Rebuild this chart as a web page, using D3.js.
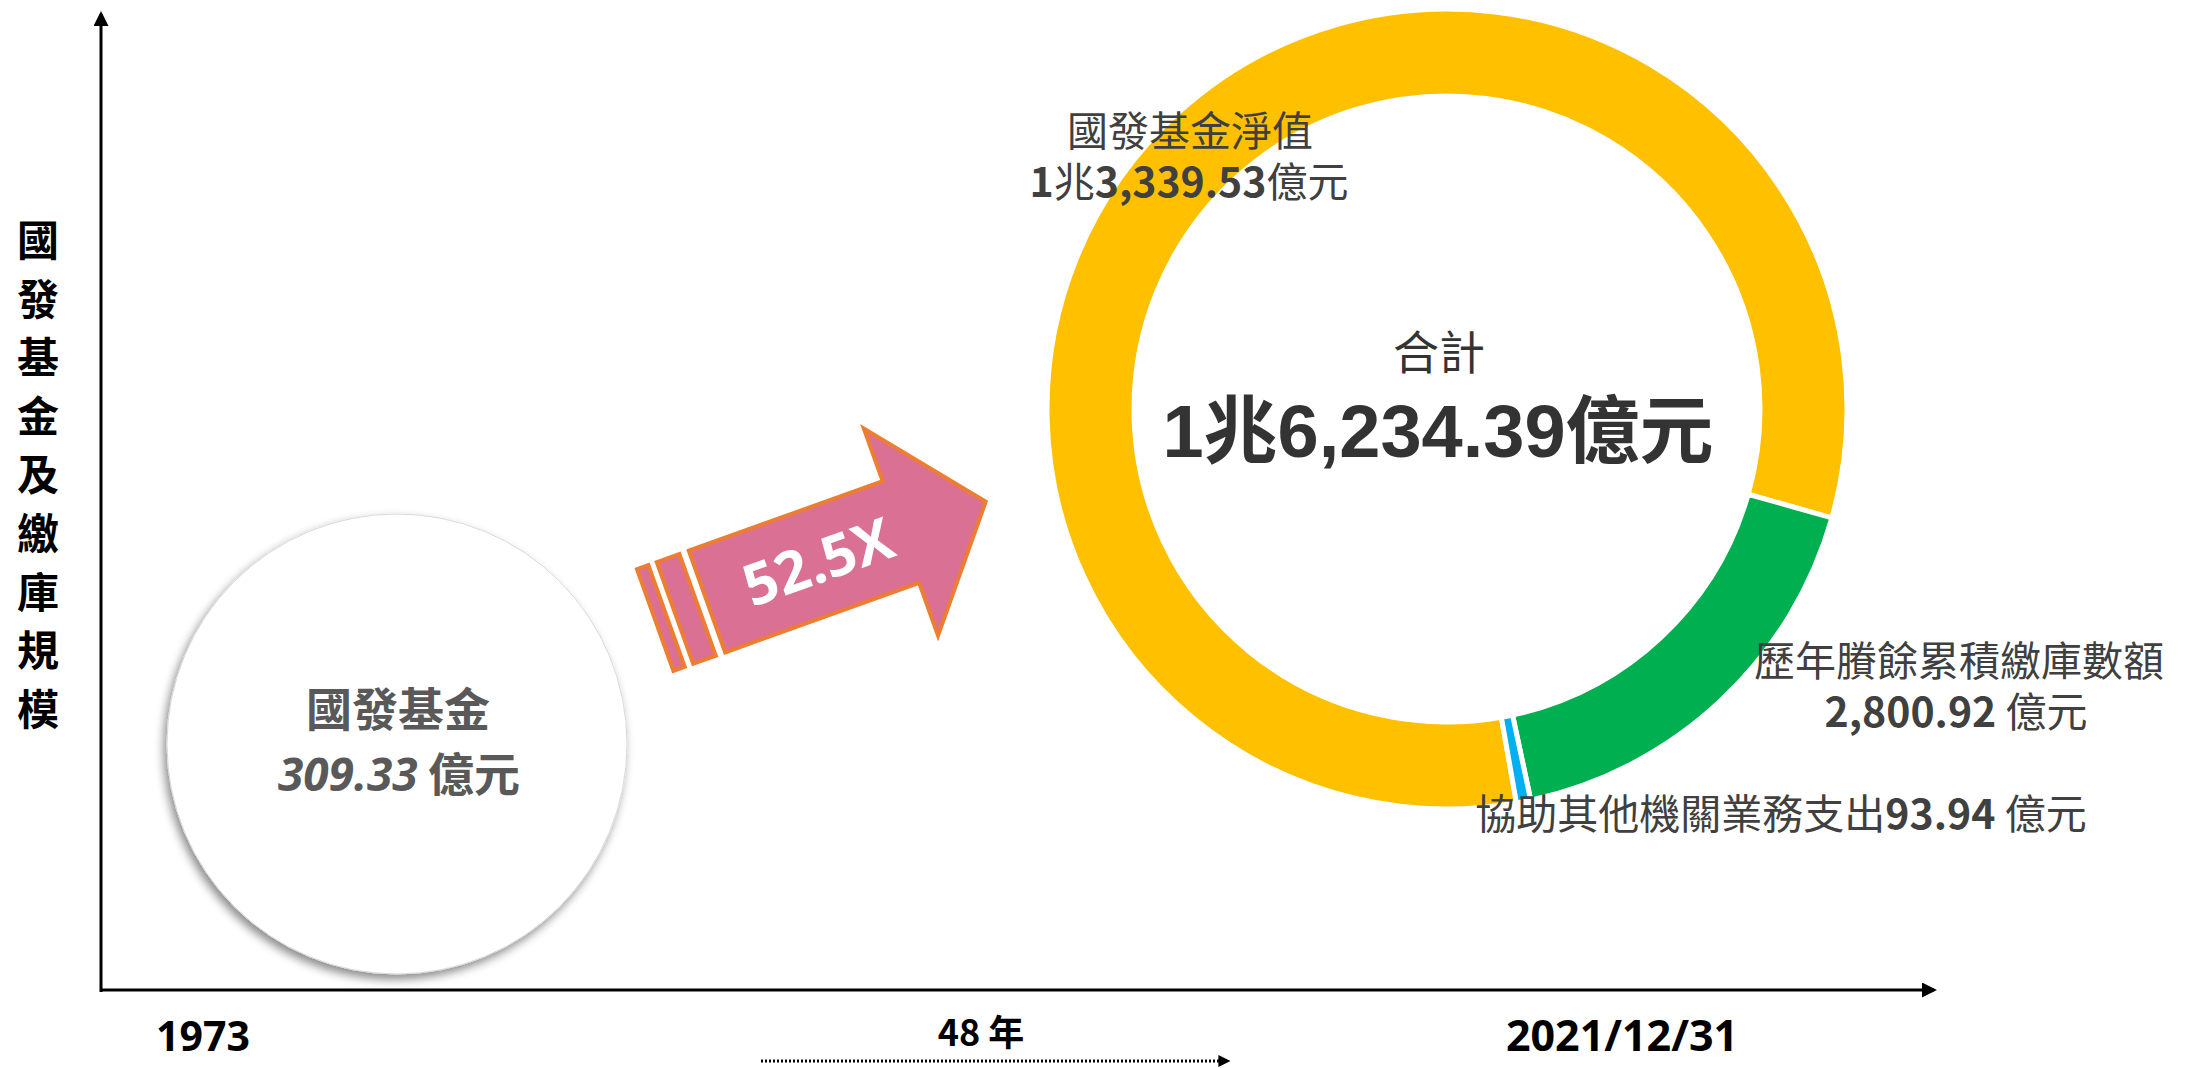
<!DOCTYPE html>
<html>
<head>
<meta charset="utf-8">
<script src="https://cdn.jsdelivr.net/npm/d3@7.9.0/dist/d3.min.js"></script>
<style>
  body { margin: 0; background: #fff; }
  svg { display: block; }
  .cjk { font-family: "Noto Sans CJK TC", "Noto Sans", sans-serif; }
</style>
</head>
<body>
<div id="chart"></div>
<script>
// data
const segNames = ['國發基金淨值', '歷年賸餘累積繳庫數額', '協助其他機關業務支出'];
const segValues = [13339.53, 2800.92, 93.94];
const segColors = ['#FFC000', '#00B050', '#00B0F0'];
const startValue = 309.33;
const startName = '國發基金';
const yearLabels = ['1973', '2021/12/31'];
const yearValues = [1973, 2021];
const axisTitle = '國發基金及繳庫規模';

const width = 2197, height = 1068;
const total = d3.sum(segValues);
const fmt2 = d3.format(',.2f');
const zhao = v => v >= 10000 ? Math.floor(v / 10000) + '兆' + fmt2(v - Math.floor(v / 10000) * 10000) : fmt2(v);

const svg = d3.select('#chart').append('svg')
  .attr('width', width).attr('height', height);

const defs = svg.append('defs');
defs.append('marker').attr('id', 'head')
  .attr('viewBox', '0 0 10 10').attr('refX', 8).attr('refY', 5)
  .attr('markerWidth', 5).attr('markerHeight', 5).attr('orient', 'auto')
  .attr('markerUnits', 'strokeWidth')
  .append('path').attr('d', 'M0,0 L10,5 L0,10 Z').attr('fill', '#000');
defs.append('marker').attr('id', 'headSmall')
  .attr('viewBox', '0 0 10 10').attr('refX', 8).attr('refY', 5)
  .attr('markerWidth', 4).attr('markerHeight', 6).attr('orient', 'auto')
  .attr('markerUnits', 'strokeWidth')
  .append('path').attr('d', 'M0,0 L10,5 L0,10 Z').attr('fill', '#000');
const shadow = defs.append('filter').attr('id', 'shadow')
  .attr('x', '-20%').attr('y', '-20%').attr('width', '140%').attr('height', '140%');
shadow.append('feDropShadow').attr('dx', -3).attr('dy', 5).attr('stdDeviation', 5)
  .attr('flood-color', '#000').attr('flood-opacity', 0.45);

// axes
const xScale = d3.scaleLinear().domain([1973, 2021]).range([203, 1622]);
const axisY0 = 990, axisX0 = 101;

svg.append('line')
  .attr('x1', axisX0).attr('y1', axisY0 + 2).attr('x2', axisX0).attr('y2', 14)
  .attr('stroke', '#000').attr('stroke-width', 3).attr('marker-end', 'url(#head)');
svg.append('line')
  .attr('x1', axisX0 - 1).attr('y1', axisY0).attr('x2', 1934).attr('y2', axisY0)
  .attr('stroke', '#000').attr('stroke-width', 3).attr('marker-end', 'url(#head)');

// y axis title, vertical
svg.append('g').selectAll('text')
  .data(Array.from(axisTitle))
  .join('text')
  .attr('class', 'cjk')
  .attr('x', 38).attr('y', (d, i) => 256 + i * 58.6)
  .attr('text-anchor', 'middle')
  .attr('font-size', 42).attr('font-weight', 700).attr('fill', '#000')
  .text(d => d);

// year labels
svg.append('g').selectAll('text')
  .data(yearValues)
  .join('text')
  .attr('x', d => xScale(d)).attr('y', 1051)
  .attr('text-anchor', 'middle')
  .attr('font-family', '"Open Sans", sans-serif')
  .attr('font-size', (d, i) => i ? 43 : 41).attr('font-weight', 700).attr('fill', '#000')
  .text((d, i) => yearLabels[i]);

svg.append('text')
  .attr('class', 'cjk')
  .attr('x', 981).attr('y', 1046)
  .attr('text-anchor', 'middle')
  .attr('font-size', 36).attr('font-weight', 700).attr('fill', '#000')
  .text((yearValues[1] - yearValues[0]) + ' 年');

svg.append('line')
  .attr('x1', 761).attr('y1', 1061).attr('x2', 1228).attr('y2', 1061)
  .attr('stroke', '#000').attr('stroke-width', 3).attr('stroke-dasharray', '2,2')
  .attr('marker-end', 'url(#headSmall)');

// start circle
const sc = { x: 397, y: 744, r: 230 };
svg.append('circle')
  .attr('cx', sc.x).attr('cy', sc.y).attr('r', sc.r)
  .attr('fill', '#fff').attr('stroke', '#d9d9d9').attr('stroke-width', 1)
  .attr('filter', 'url(#shadow)');
const st = svg.append('text').attr('class', 'cjk')
  .attr('text-anchor', 'middle').attr('font-size', 46).attr('font-weight', 700)
  .attr('fill', '#595959');
st.append('tspan').attr('x', sc.x + 1).attr('y', 726).text(startName);
st.append('tspan').attr('x', sc.x + 2).attr('y', 791)
  .attr('font-family', '"Open Sans", sans-serif').attr('font-style', 'italic')
  .text(fmt2(startValue));
st.append('tspan').text(' 億元');

// growth arrow
const arrow = svg.append('g').attr('transform', 'translate(707,601.5) rotate(-19.7)');
const arrowStyle = s => s.attr('fill', '#DB7095').attr('stroke', '#ED7D31').attr('stroke-width', 4).attr('stroke-linejoin', 'miter');
arrow.append('path')
  .attr('d', 'M0,-54 L206,-54 L206,-110 L296,0 L206,110 L206,54 L0,54 Z')
  .call(arrowStyle);
arrow.append('rect').attr('x', -34).attr('y', -54).attr('width', 24).attr('height', 108).call(arrowStyle);
arrow.append('rect').attr('x', -55).attr('y', -54).attr('width', 12).attr('height', 108).call(arrowStyle);
arrow.append('text')
  .attr('x', 118).attr('y', 0).attr('dy', '0.36em')
  .attr('text-anchor', 'middle')
  .attr('font-family', '"Open Sans", sans-serif')
  .attr('font-size', 58).attr('font-weight', 700).attr('fill', '#fff')
  .text(d3.format('.1f')(total / startValue) + 'X');

// donut
const dc = { x: 1447, y: 409, ro: 400, ri: 313 };
const pie = d3.pie().sort(null).startAngle(170 * Math.PI / 180).endAngle(530 * Math.PI / 180);
const arc = d3.arc().innerRadius(dc.ri).outerRadius(dc.ro);
const donut = svg.append('g').attr('transform', `translate(${dc.x},${dc.y})`);
donut.selectAll('path')
  .data(pie(segValues))
  .join('path')
  .attr('d', arc)
  .attr('fill', (d, i) => segColors[i])
  .attr('stroke', '#fff').attr('stroke-width', 5);

// center total
const ct = svg.append('text').attr('text-anchor', 'middle').attr('fill', '#333');
ct.append('tspan').attr('class', 'cjk')
  .attr('x', 1439).attr('y', 369).attr('font-size', 46)
  .text('合計');
ct.append('tspan')
  .attr('x', 1438).attr('y', 457)
  .attr('font-size', 74).attr('font-weight', 700)
  .attr('font-family', '"Liberation Sans", Arial, "Noto Sans CJK TC", sans-serif')
  .text(zhao(total) + '億元');

// segment labels
const lab = svg.append('g').attr('class', 'cjk').attr('fill', '#404040').attr('font-size', 41);

// 國發基金淨值: two lines in one text
const t0 = lab.append('text').attr('text-anchor', 'middle');
t0.append('tspan').attr('x', 1190).attr('y', 146).text(segNames[0]);
const parts0 = zhao(segValues[0]).split('兆');
t0.append('tspan').attr('x', 1189).attr('y', 197).attr('font-weight', 700).text(parts0[0]);
t0.append('tspan').text('兆');
t0.append('tspan').attr('font-weight', 700).text(parts0[1]);
t0.append('tspan').text('億元');

// 歷年賸餘累積繳庫數額
const t1 = lab.append('text').attr('text-anchor', 'middle');
t1.append('tspan').attr('x', 1959).attr('y', 676).text(segNames[1]);
t1.append('tspan').attr('x', 1956).attr('y', 727).attr('font-weight', 700).text(fmt2(segValues[1]));
t1.append('tspan').text(' 億元');

// 協助其他機關業務支出
const t2 = lab.append('text').attr('x', 1781).attr('y', 829).attr('text-anchor', 'middle');
t2.append('tspan').text(segNames[2]);
t2.append('tspan').attr('font-weight', 700).text(fmt2(segValues[2]));
t2.append('tspan').text(' 億元');
</script>
</body>
</html>
